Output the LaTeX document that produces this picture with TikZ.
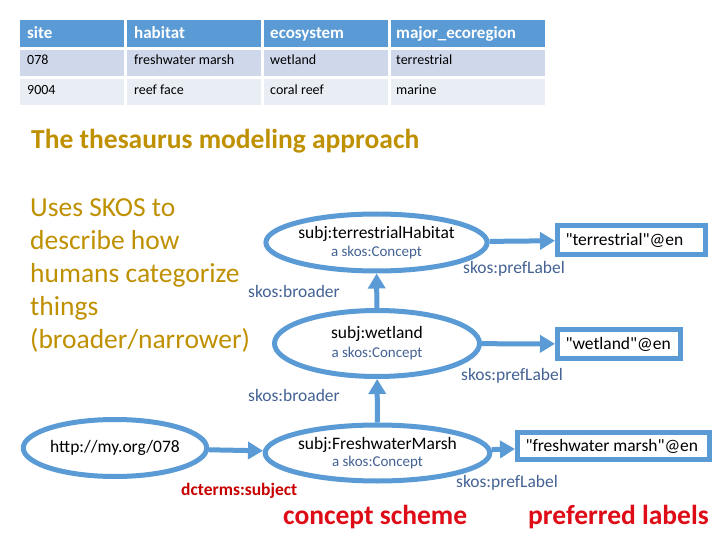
\documentclass[tikz,border=0pt]{standalone}
\usepackage{fontspec}
\setmainfont{Carlito}[Ligatures=TeXOff]
\usetikzlibrary{shapes.geometric,arrows.meta}
\definecolor{blu}{RGB}{91,155,213}
\definecolor{lbl}{RGB}{68,98,148}
\definecolor{goldt}{RGB}{191,144,0}
\definecolor{redt}{RGB}{222,12,22}
\definecolor{redd}{RGB}{200,0,0}
\definecolor{hdr}{RGB}{91,155,213}
\definecolor{rowa}{RGB}{207,216,234}
\definecolor{rowb}{RGB}{233,237,244}
\newcommand{\myfs}[2]{\fontsize{#1}{#2}\selectfont}
\begin{document}
\begin{tikzpicture}[x=1pt,y=-1pt,
  concept/.style={ellipse, draw=blu, line width=5pt, fill=white, inner sep=0pt, align=center, font=\myfs{17.5}{19}},
  lit/.style={draw=blu, line width=5pt, fill=white, inner xsep=8pt, inner ysep=0pt, align=flush left, font=\myfs{17.5}{20}},
  arr/.style={draw=blu, line width=5pt, -{Triangle[length=15pt,width=17pt]}},
  lab/.style={text=lbl, font=\myfs{17.5}{20}, anchor=base west, inner sep=0pt},
  cellt/.style={anchor=base west, inner sep=0pt, font=\myfs{14}{16}},
  hdrt/.style={anchor=base west, inner sep=0pt, font=\bfseries\myfs{17}{18}, text=white},
  goldline/.style={anchor=base west, inner sep=0pt, text=goldt, font=\myfs{27.5}{33}},
  bigred/.style={anchor=base west, inner sep=0pt, text=redt, font=\bfseries\myfs{27.5}{33}},
  cellbox/.style={draw=white, line width=2.5pt}
]
\fill[white] (0,0) rectangle (720,540);
\useasboundingbox (0,0) rectangle (720,540);

% table
\foreach \xa/\xb in {19/125.5,125.5/262.5,262.5/389.5,389.5/546.5}{
  \filldraw[cellbox, fill=hdr] (\xa,18.5) rectangle (\xb,48.5);
  \filldraw[cellbox, fill=rowa] (\xa,48.5) rectangle (\xb,77.5);
  \filldraw[cellbox, fill=rowb] (\xa,77.5) rectangle (\xb,106.5);
}
\node[hdrt] (h1) at (27,39) {site};
\node[hdrt] (h2) at (134,39) {habitat};
\node[hdrt] (h3) at (270,39) {ecosystem};
\node[hdrt] (h4) at (396,39) {major\_ecoregion};
\node[cellt] (c11) at (27,65) {078};
\node[cellt] (c12) at (134,65) {freshwater marsh};
\node[cellt] (c13) at (270,65) {wetland};
\node[cellt] (c14) at (396,65) {terrestrial};
\node[cellt] (c21) at (27,95) {9004};
\node[cellt] (c22) at (134,95) {reef face};
\node[cellt] (c23) at (270,95) {coral reef};
\node[cellt] (c24) at (396,95) {marine};

% title
\node[anchor=base west, inner sep=0pt, text=goldt, font=\bfseries\myfs{27.5}{33}] (title) at (31,149) {The thesaurus modeling approach};

% left text
\node[goldline] (l1) at (30,216) {Uses SKOS to};
\node[goldline] (l2) at (30,249) {describe how};
\node[goldline] (l3) at (30,282) {humans categorize};
\node[goldline] (l4) at (30,315) {things};
\node[goldline] (l5) at (30,348) {(broader/narrower)};

% concept nodes
\node[concept, minimum width=202pt, minimum height=57pt] (e1) at (376.5,242.5)
  {subj:terrestrialHabitat\\[-1pt]\textcolor{lbl}{\myfs{15}{19}a skos:Concept}};
\node[concept, minimum width=205pt, minimum height=66pt] (e2) at (377,343.5)
  {subj:wetland\\[0pt]\textcolor{lbl}{\myfs{15}{19}a skos:Concept}};
\node[concept, minimum width=204pt, minimum height=56pt] (e3) at (377.5,453)
  {subj:FreshwaterMarsh\\[-2pt]\textcolor{lbl}{\myfs{15}{19}a skos:Concept}};
\node[concept, minimum width=175pt, minimum height=57pt] (e0) at (115,448) {http://my.org/078};

% literal nodes
\node[lit, text width=132pt, minimum height=29pt] (r1) at (631.5,240) {"terrestrial"@en};
\node[lit, text width=107pt, minimum height=29pt] (r2) at (619,344) {"wetland"@en};
\node[lit, text width=176pt, minimum height=27.5pt] (r3) at (613.5,446) {"freshwater marsh"@en};

% connectors
\draw[arr] (e2) -- (e1);
\draw[arr] (e3) -- (e2);
\draw[arr] (e1) -- (r1);
\draw[arr] (e2) -- (r2);
\draw[arr] (e3) -- (r3);
\draw[arr] (e0) -- (e3);

% labels
\node[lab] (p1) at (463,273) {skos:prefLabel};
\node[lab] (b1) at (248,297) {skos:broader};
\node[lab] (p2) at (461,380) {skos:prefLabel};
\node[lab] (b2) at (248,401) {skos:broader};
\node[lab] (p3) at (456,487) {skos:prefLabel};
\node[anchor=base west, inner sep=0pt, text=redd, font=\bfseries\myfs{17.5}{20}] (dc) at (181,495) {dcterms:subject};
\node[bigred] (cs) at (283,524) {concept scheme};
\node[bigred] (pl) at (528,524) {preferred labels};
\end{tikzpicture}
\end{document}
